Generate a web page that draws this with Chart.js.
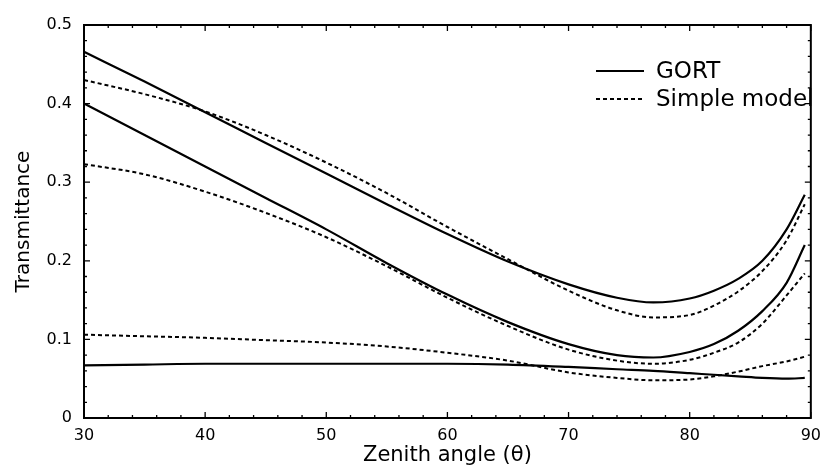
<!DOCTYPE html>
<html>
<head>
<meta charset="utf-8">
<script src="https://cdn.jsdelivr.net/npm/chart.js@4"></script>
<style>
  html, body { margin: 0; padding: 0; background: #fff; }
  #wrap { width: 829px; height: 469px; }
</style>
</head>
<body>
<div id="wrap"><canvas id="chartCanvas" width="829" height="469"></canvas></div>
<script>
// zenith angles (deg) where values were read
const angles = [30, 35, 40, 45, 50, 55, 60, 65, 70, 74, 77, 80, 82, 84, 86, 88, 89.5];

// GORT (solid)
const gortTop = [0.466, 0.428, 0.389, 0.350, 0.311, 0.272, 0.234, 0.199, 0.170, 0.153, 0.147, 0.152, 0.162, 0.177, 0.200, 0.240, 0.284];
const gortMid = [0.400, 0.360, 0.320, 0.280, 0.240, 0.197, 0.157, 0.122, 0.094, 0.080, 0.077, 0.084, 0.094, 0.111, 0.136, 0.172, 0.220];
const gortLow = [0.067, 0.068, 0.069, 0.069, 0.069, 0.069, 0.069, 0.068, 0.065, 0.062, 0.060, 0.057, 0.055, 0.053, 0.051, 0.050, 0.051];

// Simple model (dotted)
const simpleTop = [0.430, 0.412, 0.390, 0.360, 0.325, 0.286, 0.243, 0.202, 0.162, 0.137, 0.128, 0.131, 0.143, 0.161, 0.187, 0.226, 0.272];
const simpleMid = [0.323, 0.310, 0.288, 0.261, 0.230, 0.193, 0.153, 0.117, 0.087, 0.073, 0.069, 0.074, 0.083, 0.096, 0.120, 0.156, 0.184];
const simpleLow = [0.106, 0.104, 0.102, 0.099, 0.096, 0.091, 0.083, 0.073, 0.058, 0.051, 0.048, 0.049, 0.053, 0.059, 0.066, 0.072, 0.078];

const xTicks = [30, 40, 50, 60, 70, 80, 90];
const yTicks = [0, 0.1, 0.2, 0.3, 0.4, 0.5];

const FONT = "'DejaVu Sans', sans-serif";
const DASH = [4, 3];

function pts(vals) {
  return angles.map((a, i) => ({ x: a, y: vals[i] }));
}

function line(label, vals, dashed) {
  return {
    label: label,
    data: pts(vals),
    borderColor: '#000',
    borderWidth: dashed ? 2 : 2.2,
    borderDash: dashed ? DASH : [],
    pointRadius: 0,
    fill: false,
    cubicInterpolationMode: 'monotone'
  };
}

// frame, inward ticks and the little legend
const framePlugin = {
  id: 'frame',
  afterDraw(chart) {
    const ctx = chart.ctx;
    const a = chart.chartArea;
    const xs = chart.scales.x, ys = chart.scales.y;
    ctx.save();
    ctx.strokeStyle = '#000';
    ctx.lineWidth = 2;
    ctx.strokeRect(a.left, a.top, a.right - a.left, a.bottom - a.top);

    ctx.lineWidth = 1.3;
    ctx.beginPath();
    for (let v = 30; v <= 90; v += 2) {
      const px = xs.getPixelForValue(v);
      const len = (v % 10 === 0) ? 6 : 3;
      ctx.moveTo(px, a.bottom); ctx.lineTo(px, a.bottom - len);
      ctx.moveTo(px, a.top); ctx.lineTo(px, a.top + len);
    }
    for (let i = 0; i <= 25; i++) {
      const py = ys.getPixelForValue(i * 0.02);
      const len = (i % 5 === 0) ? 6 : 3;
      ctx.moveTo(a.left, py); ctx.lineTo(a.left + len, py);
      ctx.moveTo(a.right, py); ctx.lineTo(a.right - len, py);
    }
    ctx.stroke();

    // legend
    const items = [
      { text: 'GORT', dash: [], y: 71 },
      { text: 'Simple model', dash: DASH, y: 99 }
    ];
    ctx.font = '23px ' + FONT;
    ctx.fillStyle = '#000';
    ctx.textBaseline = 'middle';
    items.forEach(it => {
      ctx.beginPath();
      ctx.lineWidth = 2;
      ctx.setLineDash(it.dash);
      ctx.moveTo(596, it.y);
      ctx.lineTo(644, it.y);
      ctx.stroke();
      ctx.setLineDash([]);
      ctx.fillText(it.text, 656, it.y + 1);
    });
    ctx.restore();
  }
};

const ctx = document.getElementById('chartCanvas').getContext('2d');
new Chart(ctx, {
  type: 'line',
  data: {
    datasets: [
      line('GORT', gortTop, false),
      line('GORT', gortMid, false),
      line('GORT', gortLow, false),
      line('Simple model', simpleTop, true),
      line('Simple model', simpleMid, true),
      line('Simple model', simpleLow, true)
    ]
  },
  options: {
    responsive: false,
    animation: false,
    layout: { padding: { left: 0, right: 7, top: 25, bottom: 0 } },
    plugins: {
      legend: { display: false },
      tooltip: { enabled: false }
    },
    scales: {
      x: {
        type: 'linear',
        min: 30,
        max: 90,
        afterBuildTicks(scale) { scale.ticks = xTicks.map(v => ({ value: v })); },
        afterFit(scale) { scale.height = 51; },
        grid: { display: false, drawTicks: false },
        border: { display: false },
        ticks: { font: { family: FONT, size: 16 }, color: '#000', padding: 8, maxRotation: 0 },
        title: {
          display: true,
          text: 'Zenith angle (\u03b8)',
          font: { family: FONT, size: 21 },
          color: '#000',
          padding: { top: 0, bottom: 1 }
        }
      },
      y: {
        min: 0,
        max: 0.5,
        afterBuildTicks(scale) { scale.ticks = yTicks.map(v => ({ value: v })); },
        afterFit(scale) { scale.width = 84; },
        grid: { display: false, drawTicks: false },
        border: { display: false },
        ticks: {
          font: { family: FONT, size: 16 },
          color: '#000',
          padding: 12,
          callback: v => String(Math.round(v * 10) / 10)
        },
        title: {
          display: true,
          text: 'Transmittance',
          font: { family: FONT, size: 20 },
          color: '#000',
          padding: { top: 12, bottom: 0 }
        }
      }
    }
  },
  plugins: [framePlugin]
});
</script>
</body>
</html>
